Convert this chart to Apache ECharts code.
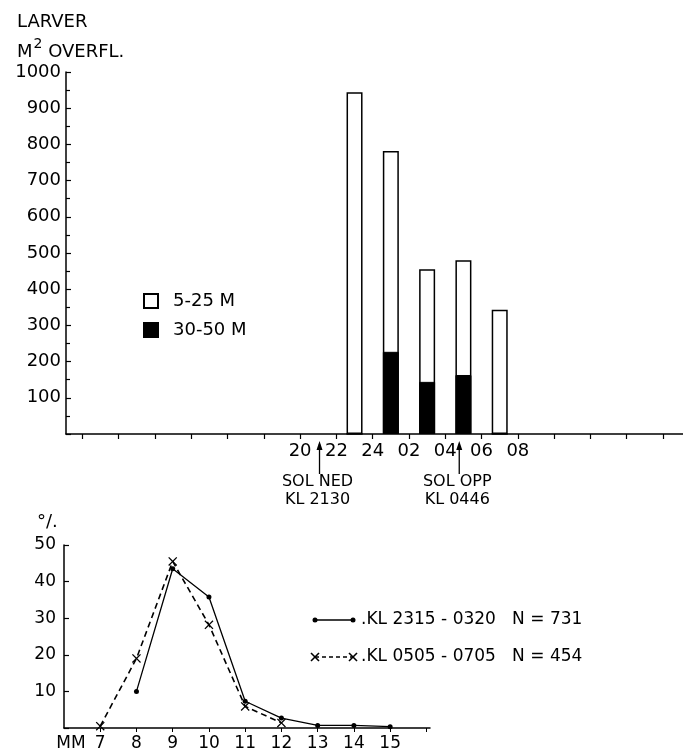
<!DOCTYPE html>
<html>
<head>
<meta charset="utf-8">
<script src="https://cdn.jsdelivr.net/npm/echarts@6/dist/echarts.min.js"></script>
<style>
html, body { margin: 0; padding: 0; background: #fff; }
#main { width: 683px; height: 756px; }
</style>
</head>
<body>
<div id="main"></div>
<script>
// upper chart: larver per m2 overflate, per 2-timers intervall (timer > 24 = neste morgen)
var barHours = [23, 25, 27, 29, 31];
var shallowValues = [944, 782, 455, 480, 343];   // 5-25 M
var deepValues = [0, 227, 144, 163, 0];          // 30-50 M
var hourTicks = [8, 10, 12, 14, 16, 18, 20, 22, 24, 26, 28, 30, 32, 34, 36, 38, 40];
var hourLabels = [20, 22, 24, 26, 28, 30, 32];
var sunHours = [21.07, 28.77];
var sunTexts = [['SOL NED', 'KL 2130'], ['SOL OPP', 'KL 0446']];

// lower chart: lengdefordeling
var mmTicks = [7, 8, 9, 10, 11, 12, 13, 14, 15, 16];
var mmLabels = [6, 7, 8, 9, 10, 11, 12, 13, 14, 15];
var mmValues = [7, 8, 9, 10, 11, 12, 13, 14, 15];
var nightPct = [null, 10, 43.5, 35.8, 7.3, 2.7, 0.7, 0.7, 0.35];   // KL 2315-0320
var morningPct = [0.5, 19, 45.5, 28.2, 5.9, 1.4, null, null, null]; // KL 0505-0705
var nightName = '.KL 2315 - 0320   N = 731';
var morningName = '.KL 0505 - 0705   N = 454';

var FONT = 'DejaVu Sans';
var crossPath = 'path://M0,1 L1,0 L5,4 L9,0 L10,1 L6,5 L10,9 L9,10 L5,6 L1,10 L0,9 L4,5 Z';

function pairs(xs, ys) {
    var out = [];
    for (var i = 0; i < xs.length; i++) {
        if (ys[i] != null) out.push([xs[i], ys[i]]);
    }
    return out;
}

function hourText(v) {
    var h = v > 24 ? v - 24 : v;
    return (h < 10 ? '0' : '') + h;
}

var myChart = echarts.init(document.getElementById('main'));

var option = {
    animation: false,
    backgroundColor: '#fff',
    textStyle: { fontFamily: FONT, color: '#000' },
    title: {
        left: 12,
        top: 2,
        text: '{a|LARVER}\n{a|M}{s|2}{a| OVERFL.}',
        textStyle: {
            fontWeight: 'normal',
            rich: {
                a: { fontFamily: FONT, fontSize: 18, fontWeight: 'normal', color: '#000', lineHeight: 30 },
                s: { fontFamily: FONT, fontSize: 14, fontWeight: 'normal', color: '#000', lineHeight: 30, verticalAlign: 'top', padding: [0, 0, 8, 1] }
            }
        }
    },
    legend: {
        data: ['5-25 M', '30-50 M'],
        orient: 'vertical',
        left: 138,
        top: 287,
        icon: 'rect',
        itemWidth: 14,
        itemHeight: 14,
        itemGap: 11,
        textStyle: { fontFamily: FONT, fontSize: 18, color: '#000', padding: [0, 0, 0, 10] }
    },
    grid: [
        { left: 66, top: 72, width: 617, height: 362 },
        { left: 64, top: 545, width: 366, height: 183 }
    ],
    xAxis: [
        {
            gridIndex: 0,
            type: 'value',
            min: 7.1,
            max: 41.1,
            splitLine: { show: false },
            axisLine: { lineStyle: { color: '#000', width: 1.5 } },
            axisTick: { customValues: hourTicks, length: 5, lineStyle: { color: '#000', width: 1.2 } },
            axisLabel: {
                customValues: hourLabels,
                formatter: hourText,
                margin: 8,
                fontFamily: FONT, fontSize: 18, color: '#000'
            }
        },
        {
            gridIndex: 1,
            type: 'value',
            min: 6,
            max: 16.1,
            splitLine: { show: false },
            axisLine: { lineStyle: { color: '#000', width: 1.5 } },
            axisTick: { customValues: mmTicks, length: 4, lineStyle: { color: '#000' } },
            axisLabel: {
                customValues: mmLabels,
                formatter: function (v) { return v === 6 ? '{mm|MM}' : v; },
                rich: { mm: { fontFamily: FONT, fontSize: 17, color: '#000', padding: [0, 0, 0, 14] } },
                margin: 7,
                fontFamily: FONT, fontSize: 17, color: '#000'
            }
        }
    ],
    yAxis: [
        {
            gridIndex: 0,
            type: 'value',
            min: 0,
            max: 1000,
            interval: 100,
            splitLine: { show: false },
            axisLine: { show: true, lineStyle: { color: '#000', width: 1.5 } },
            axisTick: { show: true, inside: true, length: 5, lineStyle: { color: '#000', width: 1.2 } },
            minorTick: { show: true, splitNumber: 2, length: 4, lineStyle: { color: '#000', width: 1.2 } },
            axisLabel: {
                formatter: function (v) { return v === 0 ? '' : v; },
                margin: 5,
                fontFamily: FONT, fontSize: 18, color: '#000'
            }
        },
        {
            gridIndex: 1,
            type: 'value',
            min: 0,
            max: 50,
            interval: 10,
            splitLine: { show: false },
            axisLine: { show: true, lineStyle: { color: '#000', width: 1.5 } },
            axisTick: { show: true, inside: true, length: 5, lineStyle: { color: '#000', width: 1.2 } },
            axisLabel: {
                formatter: function (v) { return v === 0 ? '' : v; },
                margin: 8,
                fontFamily: FONT, fontSize: 17, color: '#000'
            }
        }
    ],
    series: [
        {
            name: '5-25 M',
            type: 'bar',
            xAxisIndex: 0,
            yAxisIndex: 0,
            barWidth: 16,
            barGap: '-100%',
            z: 2,
            itemStyle: { color: '#fff', borderColor: '#000', borderWidth: 1.5 },
            data: pairs(barHours, shallowValues)
        },
        {
            name: '30-50 M',
            type: 'bar',
            xAxisIndex: 0,
            yAxisIndex: 0,
            barWidth: 16,
            barGap: '-100%',
            z: 3,
            itemStyle: { color: '#000', borderColor: '#000', borderWidth: 1 },
            data: pairs(barHours, deepValues)
        },
        {
            name: nightName,
            type: 'line',
            xAxisIndex: 1,
            yAxisIndex: 1,
            symbol: 'circle',
            symbolSize: 5,
            lineStyle: { color: '#000', width: 1.3 },
            itemStyle: { color: '#000' },
            data: pairs(mmValues, nightPct)
        },
        {
            name: morningName,
            type: 'line',
            xAxisIndex: 1,
            yAxisIndex: 1,
            symbol: crossPath,
            symbolSize: 9,
            lineStyle: { color: '#000', width: 1.6, type: [6, 4] },
            itemStyle: { color: '#000' },
            data: pairs(mmValues, morningPct)
        }
    ]
};

myChart.setOption(option);

// piler for solnedgang / soloppgang, plassert via aksen
var graphics = [];
var baseY = 434;
for (var i = 0; i < sunHours.length; i++) {
    var px = myChart.convertToPixel({ xAxisIndex: 0 }, sunHours[i]);
    graphics.push({ type: 'line', shape: { x1: px, y1: baseY + 10, x2: px, y2: baseY + 40 }, style: { stroke: '#000', lineWidth: 1.3 } });
    graphics.push({ type: 'polygon', shape: { points: [[px, baseY + 7], [px - 3, baseY + 16], [px + 3, baseY + 16]] }, style: { fill: '#000' } });
    graphics.push({ type: 'text', x: px - 2, y: baseY + 48, style: { text: sunTexts[i][0], fontFamily: FONT, fontSize: 16, fill: '#000', align: 'center', verticalAlign: 'middle' } });
    graphics.push({ type: 'text', x: px - 2, y: baseY + 66, style: { text: sunTexts[i][1], fontFamily: FONT, fontSize: 16, fill: '#000', align: 'center', verticalAlign: 'middle' } });
}

// prosent-tegn og forklaring for nedre figur
graphics.push({ type: 'text', x: 37, y: 522, style: { text: '°/.', fontFamily: FONT, fontSize: 18, fill: '#000', verticalAlign: 'middle' } });

function cross(cx, cy) {
    return [
        { type: 'line', shape: { x1: cx - 4, y1: cy - 4, x2: cx + 4, y2: cy + 4 }, style: { stroke: '#000', lineWidth: 1.6 } },
        { type: 'line', shape: { x1: cx - 4, y1: cy + 4, x2: cx + 4, y2: cy - 4 }, style: { stroke: '#000', lineWidth: 1.6 } }
    ];
}

var legX1 = 315, legX2 = 353, legY = [620, 657];
graphics.push({ type: 'line', shape: { x1: legX1, y1: legY[0], x2: legX2, y2: legY[0] }, style: { stroke: '#000', lineWidth: 1.3 } });
graphics.push({ type: 'circle', shape: { cx: legX1, cy: legY[0], r: 2.5 }, style: { fill: '#000' } });
graphics.push({ type: 'circle', shape: { cx: legX2, cy: legY[0], r: 2.5 }, style: { fill: '#000' } });
graphics.push({ type: 'text', x: legX2 + 8, y: legY[0], style: { text: nightName, fontFamily: FONT, fontSize: 17, fill: '#000', verticalAlign: 'middle' } });
graphics.push({ type: 'line', shape: { x1: legX1, y1: legY[1], x2: legX2, y2: legY[1] }, style: { stroke: '#000', lineWidth: 1.3, lineDash: [4, 3] } });
graphics = graphics.concat(cross(legX1, legY[1]), cross(legX2, legY[1]));
graphics.push({ type: 'text', x: legX2 + 8, y: legY[1], style: { text: morningName, fontFamily: FONT, fontSize: 17, fill: '#000', verticalAlign: 'middle' } });

myChart.setOption({ graphic: graphics });
</script>
</body>
</html>
